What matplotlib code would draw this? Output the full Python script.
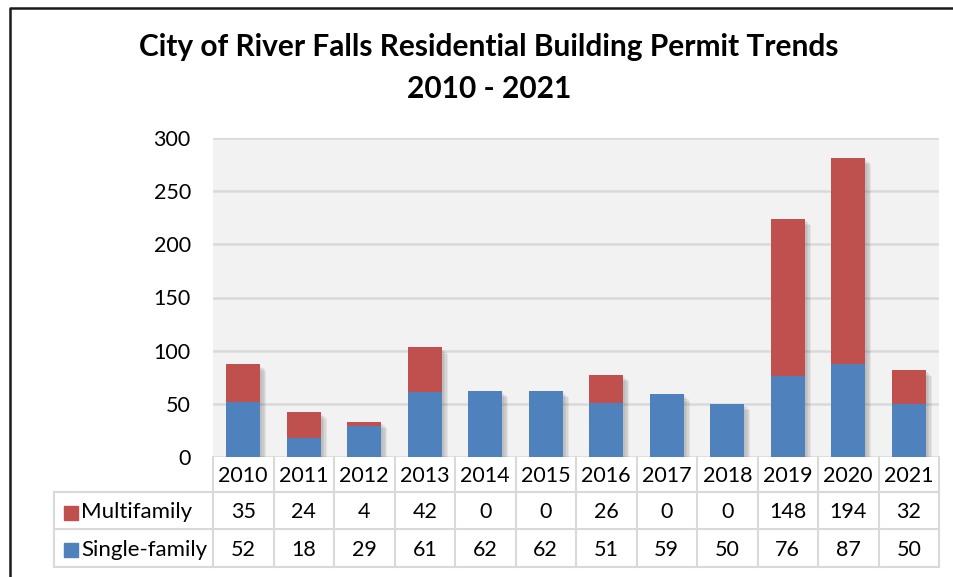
import matplotlib
matplotlib.use("Agg")
import matplotlib.pyplot as plt
from matplotlib.lines import Line2D
from matplotlib.patches import Rectangle
from matplotlib.transforms import blended_transform_factory
import matplotlib.patheffects as pe

years = ["2010", "2011", "2012", "2013", "2014", "2015", "2016", "2017", "2018", "2019", "2020", "2021"]
multifamily = [35, 24, 4, 42, 0, 0, 26, 0, 0, 148, 194, 32]
single_family = [52, 18, 29, 61, 62, 62, 51, 59, 50, 76, 87, 50]
series_names = ["Multifamily", "Single-family"]
yticks = [0, 50, 100, 150, 200, 250, 300]
title = "City of River Falls Residential Building Permit Trends\n2010 - 2021"

RED = "#C0504D"
BLUE = "#4F81BD"
GRID = "#D9D9D9"
FONT = "Lato"
FS = 15.5

W, H = 954, 577
fig = plt.figure(figsize=(W / 100, H / 100), dpi=100)
L, R, T, B = 213, 939, 138, 457


def fy(py):
    return 1 - py / H


def fx(px):
    return px / W


ax = fig.add_axes([fx(L), fy(B), (R - L) / W, (B - T) / H])
ax.set_facecolor("#F2F2F2")
ax.set_xlim(-0.5, len(years) - 0.5)
ax.set_ylim(0, 300)
for s in ax.spines.values():
    s.set_visible(False)
ax.set_yticks(yticks)
ax.set_yticklabels([str(v) for v in yticks], fontsize=FS, family=FONT)
ax.tick_params(axis="y", length=0, pad=16)
ax.set_xticks([])
ax.yaxis.grid(True, color=GRID, lw=1.8)
ax.set_axisbelow(True)

x = list(range(len(years)))
totals = [s + m for s, m in zip(single_family, multifamily)]
shadow = [pe.SimplePatchShadow(offset=(o, -o), shadow_rgbFace="#606060", alpha=0.10)
          for o in (1.5, 2.5, 3.5, 4.5)]
sh = ax.bar(x, totals, width=0.56, color="none", zorder=2.5)
for p in sh:
    p.set_path_effects(shadow)
b1 = ax.bar(x, single_family, width=0.56, color=BLUE, zorder=3)
b2 = ax.bar(x, multifamily, bottom=single_family, width=0.56, color=RED, zorder=3)

# title
fig.text(fx(489), fy(68), title, ha="center", va="center", fontsize=21.5,
         fontweight="bold", family=FONT, linespacing=1.6)

# data table
tr = blended_transform_factory(ax.transData, fig.transFigure)
row_edges = [B, 492, 529, 567]
n = len(years)
col_edges = [i - 0.5 for i in range(n + 1)]
lw = 1.5
for ce in col_edges:
    fig.add_artist(Line2D([ce, ce], [fy(row_edges[0]), fy(row_edges[-1])], transform=tr,
                          color=GRID, lw=lw))
for re in row_edges[1:]:
    fig.add_artist(Line2D([fx(54), fx(R)], [fy(re), fy(re)], transform=fig.transFigure,
                          color=GRID, lw=lw))
fig.add_artist(Line2D([fx(54), fx(54)], [fy(row_edges[1]), fy(row_edges[-1])],
                      transform=fig.transFigure, color=GRID, lw=lw))

for i, yv in enumerate(years):
    ymid = (row_edges[0] + row_edges[1]) / 2 + 2
    fig.text(i, fy(ymid), yv, transform=tr, ha="center", va="center", fontsize=FS, family=FONT)
rows = [multifamily, single_family]
colors = [RED, BLUE]
for r, (vals, name, c) in enumerate(zip(rows, series_names, colors)):
    ymid = (row_edges[r + 1] + row_edges[r + 2]) / 2 + 2
    for i, v in enumerate(vals):
        fig.text(i, fy(ymid), str(v), transform=tr, ha="center", va="center",
                 fontsize=FS, family=FONT)
    fig.add_artist(Rectangle((fx(64), fy(ymid + 7)), 14 / W, 14 / H, transform=fig.transFigure,
                             color=c))
    fig.text(fx(81), fy(ymid), name, ha="left", va="center", fontsize=FS + 0.5, family=FONT)

# outer border (left and top)
fig.add_artist(Line2D([fx(10.5), fx(10.5), fx(W)], [0, fy(7.5), fy(7.5)],
                      transform=fig.transFigure, color="#1a1a1a", lw=1.8))

fig.savefig("out.png", dpi=100)
